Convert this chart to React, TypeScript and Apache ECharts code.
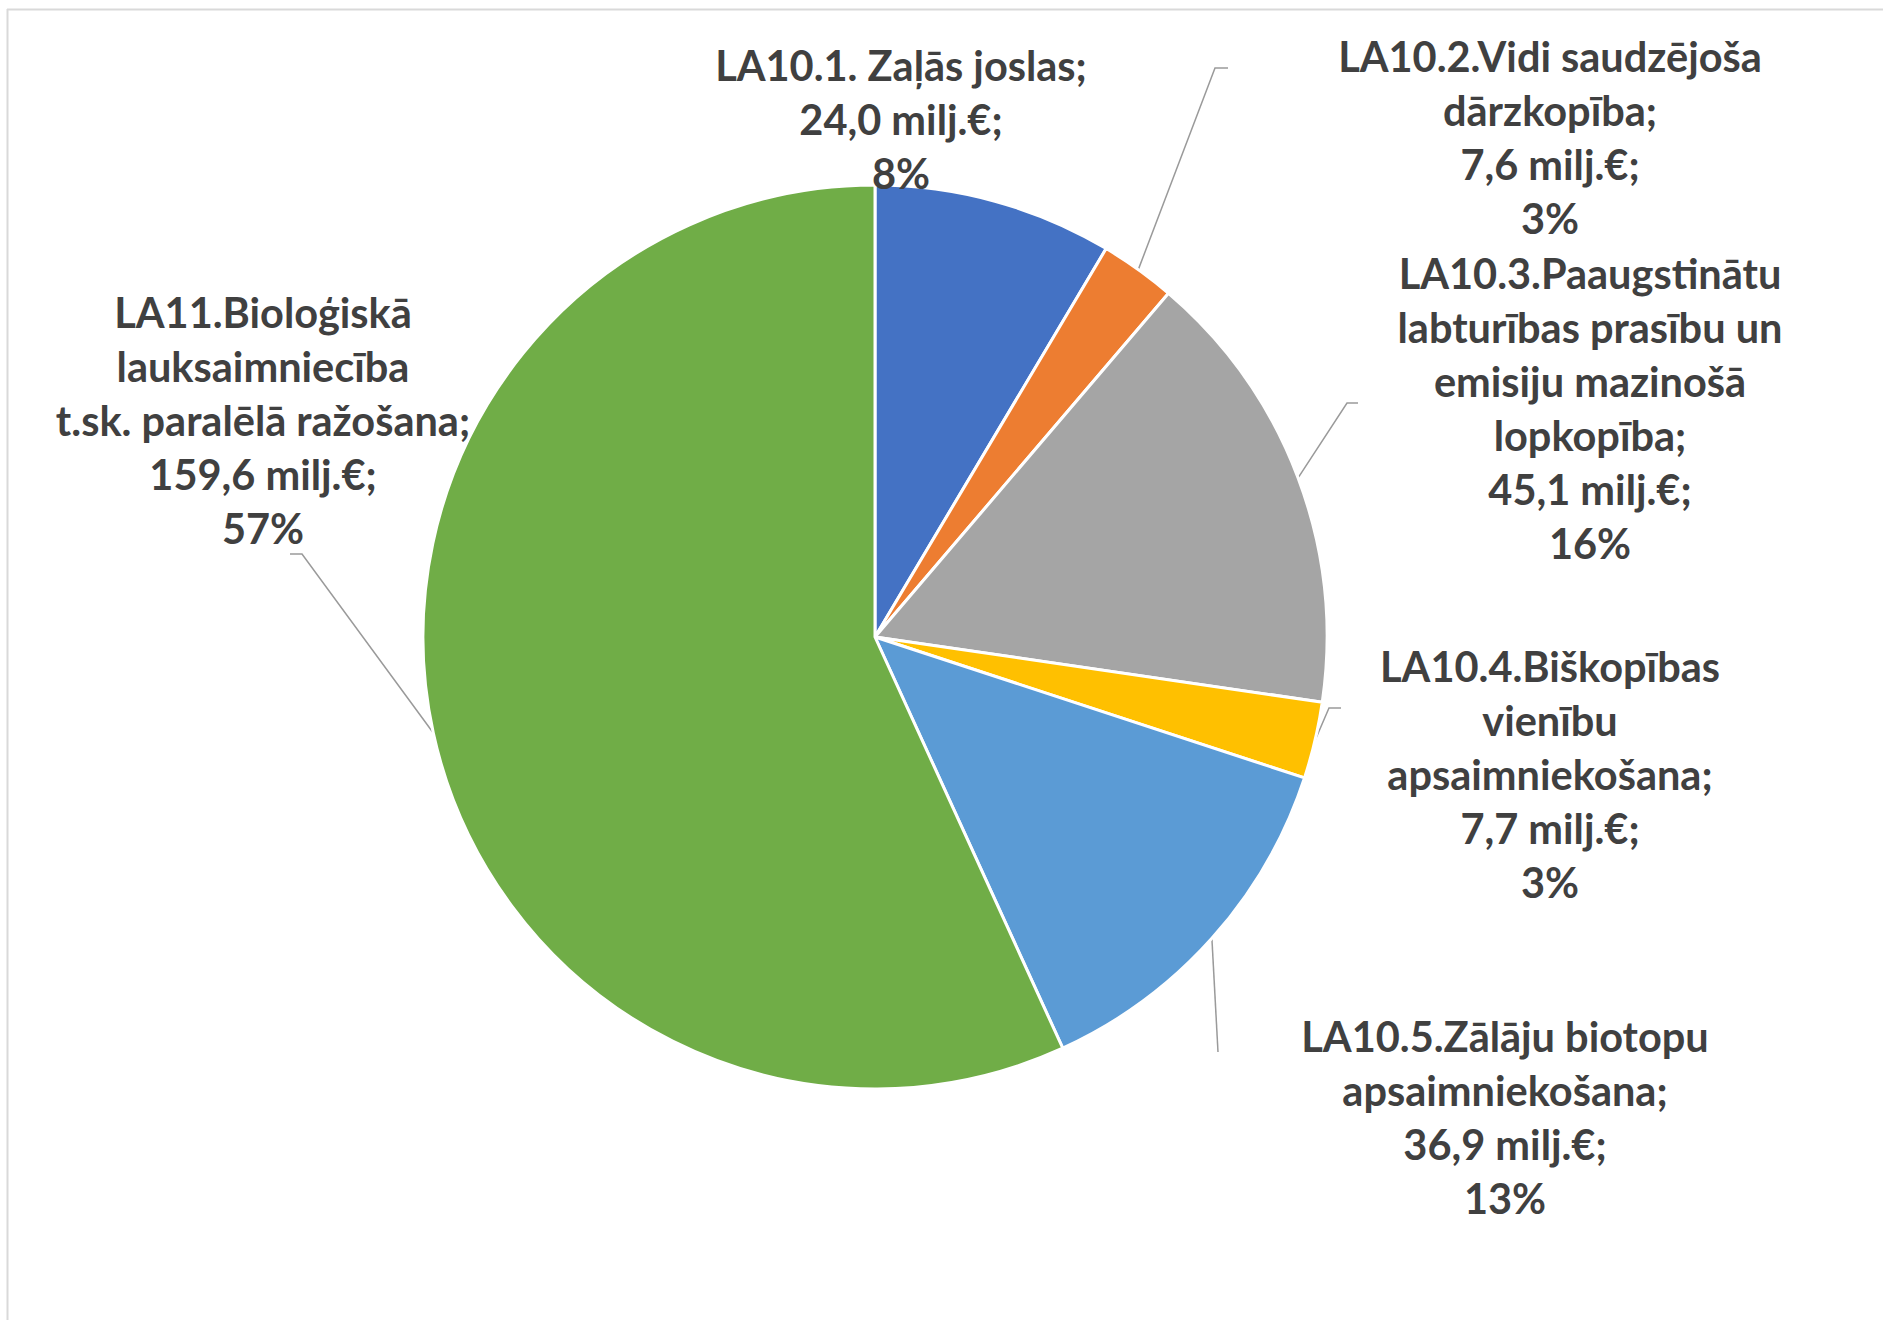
import React, { useEffect, useRef } from "react";
import * as echarts from "echarts";

// ---- data ----
const categories: string[] = [
  "LA10.1. Zaļās joslas",
  "LA10.2.Vidi saudzējoša\ndārzkopība",
  "LA10.3.Paaugstinātu\nlabturības prasību un\nemisiju mazinošā\nlopkopība",
  "LA10.4.Biškopības\nvienību\napsaimniekošana",
  "LA10.5.Zālāju biotopu\napsaimniekošana",
  "LA11.Bioloģiskā\nlauksaimniecība\nt.sk. paralēlā ražošana",
];
const values: number[] = [24.0, 7.6, 45.1, 7.7, 36.9, 159.6];
const unit = "milj.€";

// ---- styles / layout ----
const colors = ["#4472C4", "#ED7D31", "#A5A5A5", "#FFC000", "#5B9BD5", "#70AD47"];
const TEXT_COLOR = "#404040";
const LINE_COLOR = "#9a9a9a";
const FONT = "Lato, 'Open Sans', sans-serif";

// label centres and leader-line elbow/end points (annotation layout)
const labelPos: { x: number; y: number; line: number[][] | null }[] = [
  { x: 901, y: 119, line: null },
  { x: 1550, y: 137, line: [[1215, 68], [1228, 68]] },
  { x: 1590, y: 408, line: [[1347, 403], [1358, 403]] },
  { x: 1550, y: 774, line: [[1329, 708], [1341, 708]] },
  { x: 1505, y: 1117, line: [[1218, 1052], [1218, 1052]] },
  { x: 263, y: 420, line: [[302, 554], [290, 554]] },
];

export default function App() {
  const ref = useRef<HTMLDivElement>(null);
  useEffect(() => {
    if (!ref.current) return;
    const chart = echarts.init(ref.current, undefined, { renderer: "svg" });
    const data = categories.map((name, i) => ({
      name,
      value: values[i],
      itemStyle: { color: colors[i] },
      labelLine: { show: labelPos[i].line !== null },
    }));
    chart.setOption({
      animation: false,
      backgroundColor: "#ffffff",
      graphic: [
        {
          type: "line",
          shape: { x1: 7, y1: 9.5, x2: 1883, y2: 9.5 },
          style: { stroke: "#d9d9d9", lineWidth: 2 },
        },
        {
          type: "line",
          shape: { x1: 7.5, y1: 9, x2: 7.5, y2: 1320 },
          style: { stroke: "#d9d9d9", lineWidth: 2 },
        },
      ],
      series: [
        {
          type: "pie",
          center: [875, 637],
          radius: 452,
          startAngle: 90,
          clockwise: true,
          percentPrecision: 0,
          avoidLabelOverlap: false,
          itemStyle: { borderColor: "#ffffff", borderWidth: 3 },
          label: {
            show: true,
            position: "outside",
            color: TEXT_COLOR,
            fontFamily: FONT,
            fontWeight: "bold",
            fontSize: 41.5,
            lineHeight: 54,
            align: "center",
            formatter: (p: any) =>
              `${p.name};\n${Number(p.value).toFixed(1).replace(".", ",")} ${unit};\n${p.percent}%`,
          },
          labelLine: {
            show: true,
            length: 20,
            length2: 10,
            lineStyle: { color: LINE_COLOR, width: 1.5 },
          },
          labelLayout: (params: any) => {
            const lp = labelPos[params.dataIndex];
            const res: any = {
              x: lp.x,
              y: lp.y,
              align: "center",
              verticalAlign: "middle",
            };
            if (lp.line && params.labelLinePoints && params.labelLinePoints[0]) {
              const start = params.labelLinePoints[0];
              res.labelLinePoints = [[start[0], start[1]], lp.line[0], lp.line[1]];
            }
            return res;
          },
          data,
        },
      ],
    });
    return () => chart.dispose();
  }, []);
  return (
    <div
      ref={ref}
      style={{ position: "absolute", left: 0, top: 0, width: 1883, height: 1320 }}
    />
  );
}
